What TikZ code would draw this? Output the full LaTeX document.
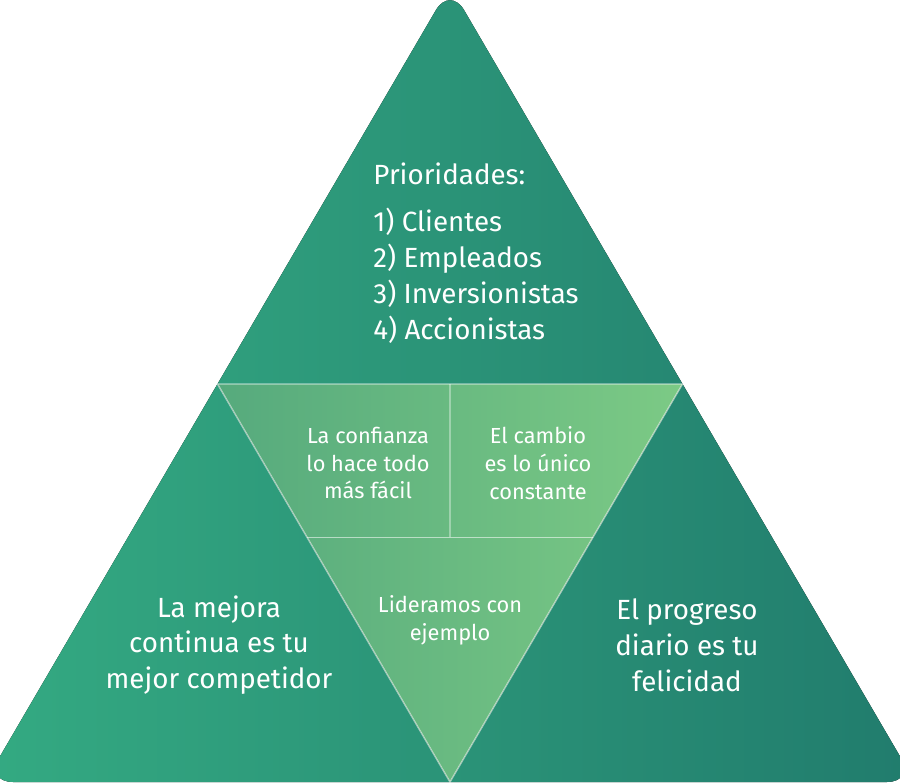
\documentclass[tikz,border=0pt]{standalone}
\usepackage{fontspec}
\setmainfont{Fira Sans}
\usepackage{xcolor}
\usetikzlibrary{calc}
\definecolor{outerL}{RGB}{52, 170, 130}
\definecolor{outerR}{RGB}{33, 124, 109}
\definecolor{innerL}{RGB}{86, 170, 125}
\definecolor{innerR}{RGB}{124, 202, 133}
\tikzset{
  bigtext/.style={text=white, inner sep=0pt, align=center,
    font=\fontsize{15.8}{20.4}\selectfont},
  smalltext/.style={text=white, inner sep=0pt, align=center,
    font=\fontsize{12.4}{15.9}\selectfont},
  divider/.style={white, opacity=0.55, line width=0.8pt}
}
\begin{document}
\begin{tikzpicture}[x=0.02cm, y=-0.02cm]
  \useasboundingbox (0,0) rectangle (900,784);
  % ── Corners ──
  \coordinate (apex) at (450,-14);
  \coordinate (bl) at (-15,782);
  \coordinate (br) at (915,782);
  \coordinate (ml) at ($(apex)!0.5!(bl)$);
  \coordinate (mr) at ($(apex)!0.5!(br)$);
  \coordinate (mb) at ($(bl)!0.5!(br)$);
  \coordinate (ql) at ($(ml)!0.385!(mb)$);
  \coordinate (qr) at ($(mr)!0.385!(mb)$);
  \coordinate (qt) at ($(ml)!0.5!(mr)$);
  \coordinate (qb) at ($(ql)!0.5!(qr)$);
  % ── Outer triangle ──
  \fill[left color=outerL, right color=outerR, rounded corners=5.6mm]
    (apex) -- (br) -- (bl) -- cycle;
  % ── Inner triangle ──
  \fill[left color=innerL, right color=innerR] (ml) -- (mr) -- (mb) -- cycle;
  \draw[divider] (ml) -- (mr) -- (mb) -- cycle;
  \draw[divider] (ql) -- (qr);
  \draw[divider] (qt) -- (qb);
  % ── Texts ──
  \node[bigtext, align=left] (prio) at (476,253)
    {Prioridades:\\[6.8pt]1) Clientes\\2) Empleados\\3) Inversionistas\\4) Accionistas};
  \node[bigtext] (mejora) at (219,645)
    {La mejora\\continua es tu\\mejor competidor};
  \node[bigtext] (progreso) at (687,645)
    {El progreso\\diario es tu\\felicidad};
  \node[smalltext] (confianza) at (368,463)
    {La confianza\\lo hace todo\\más fácil};
  \node[smalltext] (cambio) at (538,463)
    {El cambio\\es lo único\\constante};
  \node[smalltext] (ejemplo) at (450,620)
    {Lideramos con\\ejemplo};
\end{tikzpicture}
\end{document}
